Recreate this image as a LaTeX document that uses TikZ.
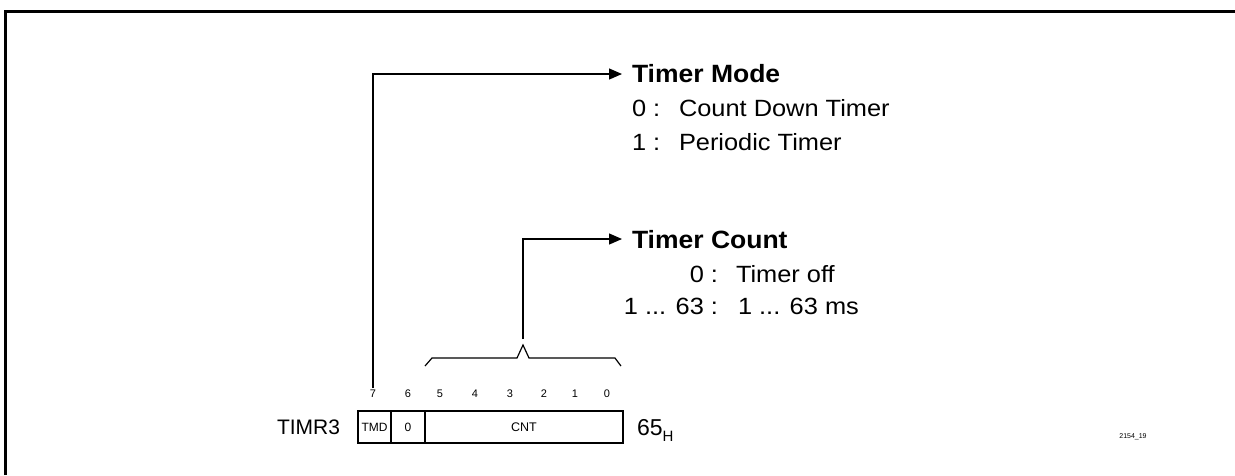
\documentclass[tikz,border=0pt]{standalone}
\usepackage{fontspec}
\usepackage{graphicx}
\setmainfont{Liberation Sans}
\usetikzlibrary{arrows.meta}
\newcommand{\hstretch}[1]{\scalebox{1.08}[1]{#1}}
\begin{document}
\begin{tikzpicture}[x=1pt,y=-1pt,
  txt/.style={inner sep=0pt,outer sep=0pt},
  regbox/.style={draw,line width=1.3pt,inner sep=0pt,minimum height=32pt},
  bitnum/.style={inner sep=2pt,font=\fontsize{11}{13}\selectfont},
  conn/.style={line width=1.2pt,-{Triangle[length=13pt,width=11pt]}},
  title/.style={txt,font=\fontsize{25}{29}\selectfont\bfseries},
  body/.style={txt,font=\fontsize{23.5}{27}\selectfont}]
\useasboundingbox (0,0) rectangle (1235,475);
% frame
\draw[line width=3pt] (5,475) -- (5,11) -- (1235,11);
% register
\node[txt,anchor=base west,font=\fontsize{21}{25}\selectfont] (reg) at (277,434) {TIMR3};
\node[regbox,minimum width=33pt,font=\fontsize{12}{14}\selectfont] (tmd) at (374.5,427) {TMD};
\node[regbox,minimum width=34pt,font=\fontsize{12}{14}\selectfont] (zero) at (408,427) {0};
\node[regbox,minimum width=198pt,font=\fontsize{12.5}{14}\selectfont] (cnt) at (524,427) {CNT};
\node[txt,anchor=base west,font=\fontsize{23}{27}\selectfont] (addr) at (637,435) {65\raisebox{-6pt}{\fontsize{15}{17}\selectfont H}};
% bit numbers
\node[bitnum] (b7) at (373,394) {7};
\node[bitnum] (b6) at (408,394) {6};
\node[bitnum] (b5) at (440,394) {5};
\node[bitnum] (b4) at (475,394) {4};
\node[bitnum] (b3) at (510,394) {3};
\node[bitnum] (b2) at (544,394) {2};
\node[bitnum] (b1) at (575,394) {1};
\node[bitnum] (b0) at (607,394) {0};
% brace
\draw[line width=1.2pt] (425,366) -- (432,358) -- (517,358) -- (523,345) -- (529,358) -- (615,358) -- (621,366);
\coordinate (bracetop) at (523,339);
% Timer mode text
\node[title,anchor=base west] (modet) at (632,82) {\scalebox{1.06}[1]{Timer Mode}};
\coordinate (modetip) at (622,74);
\node[body,anchor=base west] (m0k) at (632,116) {\hstretch{0 :}};
\node[body,anchor=base west] (m0v) at (679,116) {\hstretch{Count Down Timer}};
\node[body,anchor=base west] (m1k) at (632,150) {\hstretch{1 :}};
\node[body,anchor=base west] (m1v) at (679,150) {\hstretch{Periodic Timer}};
% Timer count text
\node[title,anchor=base west] (cntt) at (632,248) {\scalebox{1.06}[1]{Timer Count}};
\coordinate (cnttip) at (622,239);
\node[body,anchor=base east] (c0k) at (718,282) {\hstretch{0 :}};
\node[body,anchor=base west] (c0v) at (736,282) {\hstretch{Timer off}};
\node[body,anchor=base east] (c1k) at (718,314) {\hstretch{1 ... 63 :}};
\node[body,anchor=base west] (c1v) at (738,314) {\hstretch{1 ... 63 ms}};
% connectors
\draw[conn] (b7.north) |- (modetip);
\draw[conn] (bracetop) |- (cnttip);
% figure id
\node[txt,font=\fontsize{7}{8}\selectfont] (figid) at (1133,437) {2154\_19};
\end{tikzpicture}
\end{document}
